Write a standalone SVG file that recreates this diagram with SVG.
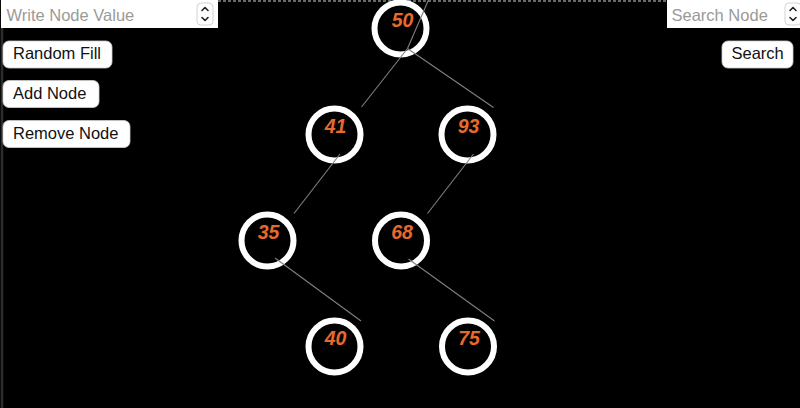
<svg xmlns="http://www.w3.org/2000/svg" width="800" height="408" viewBox="0 0 800 408">
<style>
.ui{font-family:"Liberation Sans",Arial,sans-serif;font-size:16.5px}
.ph{fill:#9a9a9a}
.btn{fill:#fff;stroke:#d0d0d0;stroke-width:0.8}
.bt{fill:#111}
.ring{fill:none;stroke:#fff;stroke-width:6}
.val{font-family:"Liberation Sans",Arial,sans-serif;font-size:19.5px;font-weight:bold;font-style:italic;fill:#e8692c;text-anchor:middle}
.edge{stroke:#808080;stroke-width:1.1;fill:none}
.chev{fill:none;stroke:#222;stroke-width:1.6;stroke-linecap:round;stroke-linejoin:round}
</style>
<rect width="800" height="408" fill="#000"/>
<line x1="2" y1="0" x2="2" y2="408" stroke="#2c2c2c" stroke-width="2.5"/>
<line x1="218" y1="1" x2="667" y2="1" stroke="#8a8a8a" stroke-width="1.5" stroke-dasharray="3,2"/>

<g id="write-input">
<rect x="1" y="0" width="217" height="28" fill="#fff"/>
<text class="ui ph" x="6.5" y="21">Write Node Value</text>
<rect x="197" y="3" width="16" height="22" rx="4" fill="#fff" stroke="#c8c8c8" stroke-width="0.8"/>
<polyline class="chev" points="202,10.5 205,7.5 208,10.5"/>
<polyline class="chev" points="202,17.5 205,20.5 208,17.5"/>
</g>
<g id="btn-random">
<rect class="btn" x="3" y="41" width="109" height="27" rx="6"/>
<text class="ui bt" x="13" y="59">Random Fill</text>
</g>
<g id="btn-add">
<rect class="btn" x="3" y="80.5" width="96" height="27" rx="6"/>
<text class="ui bt" x="13" y="99">Add Node</text>
</g>
<g id="btn-remove">
<rect class="btn" x="3" y="120.5" width="127" height="27" rx="6"/>
<text class="ui bt" x="13" y="139">Remove Node</text>
</g>
<g id="search-input">
<rect x="667" y="0" width="133" height="28" fill="#fff"/>
<text class="ui ph" x="671.5" y="21">Search Node</text>
<rect x="785" y="3" width="16" height="22" rx="4" fill="#fff" stroke="#c8c8c8" stroke-width="0.8"/>
<polyline class="chev" points="790,10.5 793,7.5 796,10.5"/>
<polyline class="chev" points="790,17.5 793,20.5 796,17.5"/>
</g>
<g id="btn-search">
<rect class="btn" x="722" y="41" width="71" height="27" rx="6"/>
<text class="ui bt" x="731.5" y="59">Search</text>
</g>

<g id="node-50"><circle class="ring" cx="400.5" cy="28.5" r="26"/><text class="val" x="402.5" y="27">50</text></g>
<g id="node-41"><circle class="ring" cx="334.5" cy="134.5" r="26"/><text class="val" x="335.5" y="133">41</text></g>
<g id="node-93"><circle class="ring" cx="467.5" cy="134.5" r="26"/><text class="val" x="468.5" y="133">93</text></g>
<g id="node-35"><circle class="ring" cx="267.5" cy="240.5" r="26"/><text class="val" x="268.5" y="239">35</text></g>
<g id="node-68"><circle class="ring" cx="401" cy="240.5" r="26"/><text class="val" x="402" y="239">68</text></g>
<g id="node-40"><circle class="ring" cx="334.5" cy="346.5" r="26"/><text class="val" x="335.5" y="345">40</text></g>
<g id="node-75"><circle class="ring" cx="468" cy="346.5" r="26"/><text class="val" x="469" y="345">75</text></g>

<g id="connectors">
<line class="edge" x1="428.5" y1="0" x2="407.5" y2="48.5"/>
<line class="edge" x1="407.5" y1="48.5" x2="361.5" y2="107"/>
<line class="edge" x1="407.5" y1="48.5" x2="493.5" y2="107.5"/>
<line class="edge" x1="340" y1="154" x2="294" y2="213.5"/>
<line class="edge" x1="473.5" y1="154" x2="427.5" y2="213.5"/>
<line class="edge" x1="275" y1="258" x2="361" y2="321"/>
<line class="edge" x1="408.5" y1="259" x2="494.5" y2="321"/>
</g>
</svg>
